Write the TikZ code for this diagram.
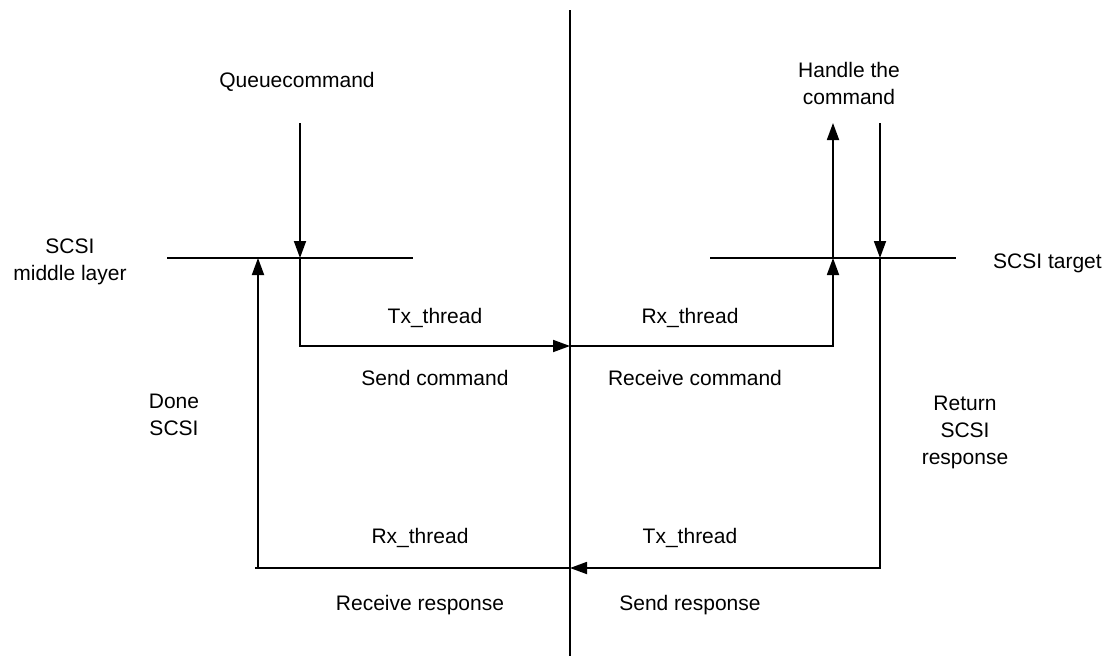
\documentclass[tikz,border=0pt]{standalone}
\usepackage{fontspec}
\setmainfont{Liberation Sans}
\usetikzlibrary{arrows.meta}
\begin{document}
\begin{tikzpicture}[x=1pt,y=-1pt,
  wire/.style={line width=1.8pt, line cap=butt},
  flow/.style={wire, -{Triangle[length=17pt,width=12pt]}},
  lbl/.style={inner sep=0pt, anchor=base, font=\fontsize{21}{27}\selectfont, align=center}]
\useasboundingbox (0,0) rectangle (1109,656);

% layer boundary and the two attachment bars
\coordinate (divT) at (570,10);
\coordinate (divB) at (570,656);
\coordinate (barL1) at (167,258);
\coordinate (barL2) at (413,258);
\coordinate (barR1) at (710,258);
\coordinate (barR2) at (956,258);
\draw[wire] (divT) -- (divB);
\draw[wire] (barL1) -- (barL2);
\draw[wire] (barR1) -- (barR2);

% path points of the command / response loop
\coordinate (qTop) at (300,123);
\coordinate (qBar) at (300,258);
\coordinate (qLow) at (300,346);
\coordinate (midCmd) at (570,346);
\coordinate (hLow) at (833,346);
\coordinate (hBar) at (833,258);
\coordinate (hTop) at (833,123);
\coordinate (tTop) at (880,123);
\coordinate (tBar) at (880,258);
\coordinate (tLow) at (880,568);
\coordinate (midRsp) at (570,568);
\coordinate (dEnd) at (255,568);
\coordinate (dLow) at (258,568);
\coordinate (dBar) at (258,258);

\draw[flow] (qTop) -- (qBar);
\draw[flow] (qBar) -- (qLow) -- (midCmd);
\draw[flow] (midCmd) -- (hLow) -- (hBar);
\draw[flow] (hBar) -- (hTop);
\draw[flow] (tTop) -- (tBar);
\draw[flow] (tBar) -- (tLow) -- (midRsp);
\draw[wire] (midRsp) -- (dEnd);
\draw[flow] (dLow) -- (dBar);

% labels (multi-line labels are placed by the baseline of their last line)
\node[lbl] (queue) at (297,87) {Queuecommand};
\node[lbl] (handle) at (849,104) {Handle the\\command};
\node[lbl] (midlayer) at (70,280) {SCSI\\middle layer};
\node[lbl, anchor=base west] (target) at (993,268) {SCSI target};
\node[lbl] (txA) at (435,323) {Tx\_thread};
\node[lbl] (rxA) at (690,323) {Rx\_thread};
\node[lbl] (sendCmd) at (435,385) {Send command};
\node[lbl] (recvCmd) at (695,385) {Receive command};
\node[lbl] (done) at (174,435) {Done\\SCSI};
\node[lbl] (ret) at (965,464) {Return\\SCSI\\response};
\node[lbl] (rxB) at (420,543) {Rx\_thread};
\node[lbl] (txB) at (690,543) {Tx\_thread};
\node[lbl] (recvRsp) at (420,610) {Receive response};
\node[lbl] (sendRsp) at (690,610) {Send response};
\end{tikzpicture}
\end{document}
